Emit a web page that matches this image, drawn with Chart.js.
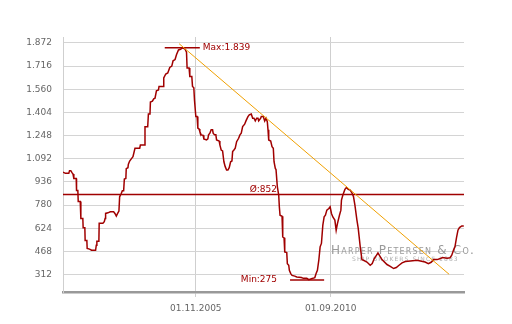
<!DOCTYPE html>
<html>
<head>
<meta charset="utf-8">
<script src="https://cdn.jsdelivr.net/npm/chart.js@4.4.1/dist/chart.umd.min.js"></script>
<style>
  html, body { margin: 0; padding: 0; background: #fff; }
  canvas { display: block; }
</style>
</head>
<body>
<canvas id="rateChart" width="512" height="324"></canvas>
<script>
// --- data (x = decimal year, y = rate) ---
const years = [
  2001.072, 2001.162, 2001.280, 2001.306, 2001.352, 2001.388, 2001.431, 2001.460, 2001.546, 2001.557,
  2001.604, 2001.618, 2001.690, 2001.712, 2001.783, 2001.794, 2001.855, 2001.866, 2001.927, 2001.938,
  2002.024, 2002.096, 2002.240, 2002.265, 2002.286, 2002.358, 2002.369, 2002.502, 2002.552, 2002.581,
  2002.599, 2002.682, 2002.768, 2002.886, 2002.933, 2002.983, 2003.030, 2003.077, 2003.102, 2003.163,
  2003.199, 2003.246, 2003.271, 2003.325, 2003.339, 2003.400, 2003.415, 2003.461, 2003.533, 2003.580,
  2003.652, 2003.821, 2003.846, 2003.990, 2004.011, 2004.108, 2004.133, 2004.190, 2004.205, 2004.277,
  2004.324, 2004.370, 2004.421, 2004.493, 2004.514, 2004.658, 2004.683, 2004.755, 2004.827, 2004.899,
  2004.971, 2005.017, 2005.089, 2005.139, 2005.211, 2005.283, 2005.355, 2005.402, 2005.448, 2005.499,
  2005.520, 2005.592, 2005.617, 2005.689, 2005.714, 2005.761, 2005.786, 2005.833, 2005.879, 2005.905,
  2005.951, 2005.976, 2006.023, 2006.095, 2006.120, 2006.217, 2006.264, 2006.289, 2006.336, 2006.383,
  2006.433, 2006.454, 2006.504, 2006.551, 2006.576, 2006.669, 2006.695, 2006.742, 2006.792, 2006.839,
  2006.886, 2006.936, 2006.983, 2007.030, 2007.080, 2007.127, 2007.152, 2007.199, 2007.245, 2007.295,
  2007.367, 2007.414, 2007.461, 2007.511, 2007.583, 2007.630, 2007.701, 2007.748, 2007.820, 2007.870,
  2007.917, 2007.964, 2008.014, 2008.061, 2008.086, 2008.158, 2008.179, 2008.251, 2008.301, 2008.348,
  2008.395, 2008.420, 2008.445, 2008.517, 2008.564, 2008.610, 2008.636, 2008.682, 2008.707, 2008.754,
  2008.804, 2008.826, 2008.851, 2008.923, 2008.948, 2008.995, 2009.020, 2009.092, 2009.113, 2009.163,
  2009.185, 2009.235, 2009.282, 2009.379, 2009.450, 2009.616, 2009.688, 2009.810, 2009.882, 2009.954,
  2010.026, 2010.098, 2010.144, 2010.191, 2010.241, 2010.288, 2010.335, 2010.385, 2010.432, 2010.478,
  2010.529, 2010.600, 2010.647, 2010.694, 2010.744, 2010.816, 2010.863, 2010.909, 2010.981, 2011.032,
  2011.053, 2011.104, 2011.176, 2011.234, 2011.295, 2011.366, 2011.438, 2011.485, 2011.535, 2011.607,
  2011.654, 2011.725, 2011.787, 2011.844, 2011.966, 2012.084, 2012.156, 2012.228, 2012.311, 2012.361,
  2012.408, 2012.505, 2012.685, 2012.803, 2012.922, 2013.019, 2013.116, 2013.224, 2013.342, 2013.522,
  2013.763, 2013.881, 2014.050, 2014.169, 2014.266, 2014.359, 2014.481, 2014.600, 2014.672, 2014.841,
  2014.941, 2015.006, 2015.067, 2015.121, 2015.175, 2015.229, 2015.283, 2015.365, 2015.437
];
const rates = [
  1001, 994, 994, 1012, 1012, 1001, 989, 960, 960, 879,
  879, 805, 805, 690, 690, 627, 627, 542, 542, 488,
  484, 476, 476, 510, 537, 537, 658, 658, 668, 690,
  724, 728, 735, 735, 724, 706, 724, 740, 836, 860,
  877, 877, 956, 960, 1025, 1032, 1055, 1077, 1095, 1106,
  1163, 1163, 1185, 1185, 1307, 1307, 1393, 1393, 1474, 1480,
  1496, 1500, 1550, 1555, 1579, 1579, 1636, 1663, 1670, 1707,
  1716, 1752, 1760, 1793, 1825, 1829, 1839, 1835, 1830, 1810,
  1703, 1703, 1646, 1646, 1579, 1570, 1484, 1376, 1376, 1298,
  1292, 1275, 1253, 1250, 1226, 1219, 1226, 1253, 1264, 1287,
  1287, 1264, 1253, 1253, 1219, 1212, 1185, 1151, 1145, 1072,
  1039, 1016, 1016, 1032, 1072, 1077, 1140, 1151, 1163, 1207,
  1230, 1253, 1264, 1309, 1325, 1347, 1376, 1388, 1393, 1365,
  1365, 1347, 1365, 1365, 1347, 1365, 1376, 1376, 1347, 1365,
  1342, 1287, 1219, 1212, 1174, 1163, 1072, 1027, 1020, 904,
  848, 769, 712, 705, 566, 560, 465, 460, 386, 375,
  341, 319, 307, 302, 296, 292, 287, 287, 278, 283,
  287, 292, 319, 341, 409, 499, 522, 645, 701, 712,
  746, 757, 769, 724, 700, 679, 611, 656, 712, 746,
  814, 848, 886, 899, 886, 881, 859, 836, 780, 679,
  623, 500, 413, 409, 397, 375, 386, 420, 443, 458,
  443, 413, 380, 368, 353, 360, 375, 391, 400, 404,
  409, 404, 397, 386, 395, 413, 413, 420, 427, 422,
  425, 443, 476, 499, 560, 611, 629, 640, 640
];

const yTicks = [312, 468, 624, 780, 936, 1092, 1248, 1404, 1560, 1716, 1872];
const xTickValues = [2005.833, 2010.667];
const xTickLabels = ['01.11.2005', '01.09.2010'];

const avgRate = 852;
const maxRate = 1839;
const minRate = 275;
const maxMarkYears = [2004.719, 2005.976];
const minMarkYears = [2009.210, 2010.432];
const trendYears = [2005.233, 2014.912];
const trendRates = [1867, 314];

const X_MIN = 2001.072, X_MAX = 2015.445;
const Y_MIN = 195, Y_MAX = 1912;

const RED = '#a00000';
const FONT = '"DejaVu Sans", sans-serif';

const fmt = v => v.toLocaleString('de-DE');

// annotation texts + watermark drawn with the chart's own scales
const annotationPlugin = {
    id: 'annotations',
    beforeDatasetsDraw(chart) {
        const ctx = chart.ctx;
        ctx.save();
        ctx.fillStyle = '#9a9a9a';
        ctx.textBaseline = 'alphabetic';
        ctx.textAlign = 'left';
        ctx.font = 'small-caps 12px ' + FONT;
        ctx.letterSpacing = '1.2px';
        ctx.fillText('Harper Petersen & Co.', 331, 254);
        ctx.font = '6px ' + FONT;
        ctx.letterSpacing = '1.1px';
        ctx.fillStyle = '#b0b0b0';
        ctx.fillText('SHIP BROKERS SINCE 1883', 352, 261);
        ctx.restore();
    },
    afterDatasetsDraw(chart) {
        const { ctx, scales: { x, y } } = chart;
        ctx.save();
        ctx.fillStyle = RED;
        ctx.font = '9px ' + FONT;
        ctx.textBaseline = 'middle';

        ctx.textAlign = 'left';
        ctx.fillText('Max:' + fmt(maxRate), x.getPixelForValue(maxMarkYears[1]) + 3, y.getPixelForValue(maxRate));

        ctx.textAlign = 'right';
        ctx.fillText('Min:' + fmt(minRate), x.getPixelForValue(minMarkYears[0]) - 13, y.getPixelForValue(minRate));

        ctx.textBaseline = 'alphabetic';
        ctx.fillText('\u00D8:' + fmt(avgRate), 277, y.getPixelForValue(avgRate) - 2);
        ctx.restore();
    }
};

const mainData = years.map((yr, i) => ({ x: yr, y: rates[i] }));

new Chart(document.getElementById('rateChart').getContext('2d'), {
    type: 'line',
    data: {
        datasets: [
            {
                data: trendYears.map((yr, i) => ({ x: yr, y: trendRates[i] })),
                borderColor: '#f0a000',
                borderWidth: 1,
                order: 0
            },
            {
                data: mainData,
                borderColor: RED,
                borderWidth: 1.5,
                order: 1
            },
            {
                data: [{ x: X_MIN, y: avgRate }, { x: X_MAX, y: avgRate }],
                borderColor: RED,
                borderWidth: 1.5,
                order: 2
            },
            {
                data: maxMarkYears.map(yr => ({ x: yr, y: maxRate })),
                borderColor: RED,
                borderWidth: 1.5,
                order: 2
            },
            {
                data: minMarkYears.map(yr => ({ x: yr, y: minRate })),
                borderColor: RED,
                borderWidth: 1.5,
                order: 2
            }
        ]
    },
    options: {
        responsive: false,
        animation: false,
        devicePixelRatio: 1,
        elements: { point: { radius: 0 }, line: { tension: 0 } },
        layout: { padding: { top: 37, right: 48, left: 0, bottom: 0 } },
        plugins: { legend: { display: false }, tooltip: { enabled: false } },
        scales: {
            x: {
                type: 'linear',
                min: X_MIN,
                max: X_MAX,
                afterBuildTicks: s => { s.ticks = xTickValues.map(v => ({ value: v })); },
                afterFit: s => { s.height = 32; },
                ticks: {
                    autoSkip: false,
                    maxRotation: 0,
                    padding: 6,
                    color: '#666',
                    font: { family: FONT, size: 9 },
                    callback: (v, i) => xTickLabels[i]
                },
                grid: { color: '#cfcfcf', tickLength: 5, lineWidth: 1 },
                border: { color: '#999', width: 2.5 }
            },
            y: {
                min: Y_MIN,
                max: Y_MAX,
                afterBuildTicks: s => { s.ticks = yTicks.map(v => ({ value: v })); },
                afterFit: s => { s.width = 63; },
                ticks: {
                    padding: 11,
                    color: '#666',
                    font: { family: FONT, size: 9 },
                    callback: v => fmt(v)
                },
                grid: { color: '#d4d4d4', drawTicks: false },
                border: { color: '#cfcfcf', width: 1 }
            }
        }
    },
    plugins: [annotationPlugin]
});
</script>
</body>
</html>
